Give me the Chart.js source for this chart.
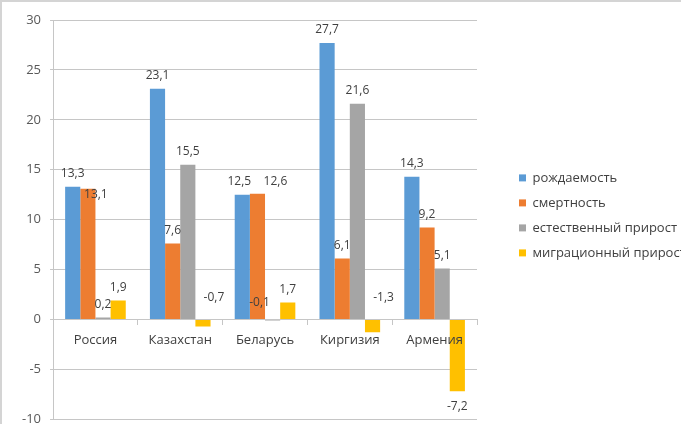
<!DOCTYPE html>
<html lang="ru">
<head>
    <meta charset="UTF-8">
    <title>Рождаемость, смертность и прирост</title>
    <script src="https://cdn.jsdelivr.net/npm/chart.js@4/dist/chart.umd.min.js"></script>
    <style>
        body {
            margin: 0;
            overflow: hidden;
            background: #ffffff;
        }

        #frame {
            position: absolute;
            left: 0;
            top: 0;
            width: 681px;
            height: 424px;
            box-sizing: border-box;
            border-top: 2px solid #d4d4d4;
            border-left: 2px solid #d4d4d4;
            pointer-events: none;
        }
    </style>
</head>
<body>
    <!-- canvas is a bit taller than the window: the lowest tick label sits right at the edge -->
    <canvas id="grafico" width="681" height="436"></canvas>
    <div id="frame"></div>

    <script>
        const categories = ['Россия', 'Казахстан', 'Беларусь', 'Киргизия', 'Армения'];
        const birthRate = [13.3, 23.1, 12.5, 27.7, 14.3];
        const deathRate = [13.1, 7.6, 12.6, 6.1, 9.2];
        const naturalGrowth = [0.2, 15.5, -0.1, 21.6, 5.1];
        const migrationGrowth = [1.9, -0.7, 1.7, -1.3, -7.2];

        const Y_MIN = -10;
        const Y_MAX = 30;
        const Y_STEP = 5;

        const FONT = '"Open Sans", "Noto Sans", sans-serif';
        const GRID = '#c6c6c6';

        // some labels were moved by hand so they don't collide: [dx, dy] per "dataset-index"
        const labelShift = {
            '0-2': [-3, 0],
            '1-0': [8, 19],
            '1-2': [18, 1],
            '2-2': [-13, -33],
            '3-1': [11, -44],
            '3-3': [11, -50]
        };

        const valueLabels = {
            id: 'valueLabels',
            afterDatasetsDraw(chart) {
                const ctx = chart.ctx;
                ctx.save();
                ctx.font = '12px ' + FONT;
                ctx.fillStyle = '#404040';
                ctx.textAlign = 'center';
                ctx.textBaseline = 'middle';
                chart.data.datasets.forEach((ds, i) => {
                    chart.getDatasetMeta(i).data.forEach((bar, j) => {
                        const v = ds.data[j];
                        const s = labelShift[i + '-' + j] || [0, 0];
                        const y = v >= 0 ? bar.y - 13 : bar.y + 15;
                        ctx.fillText(String(v).replace('.', ','), bar.x + s[0], y + s[1]);
                    });
                });
                ctx.restore();
            }
        };

        new Chart(document.getElementById('grafico'), {
            type: 'bar',
            data: {
                labels: categories,
                datasets: [
                    { label: 'рождаемость', data: birthRate, backgroundColor: '#5b9bd5' },
                    { label: 'смертность', data: deathRate, backgroundColor: '#ed7d31' },
                    { label: 'естественный прирост', data: naturalGrowth, backgroundColor: '#a5a5a5' },
                    { label: 'миграционный прирост', data: migrationGrowth, backgroundColor: '#ffc000' }
                ]
            },
            options: {
                responsive: false,
                animation: false,
                datasets: {
                    bar: { barPercentage: 1, categoryPercentage: 0.715 }
                },
                layout: {
                    padding: { left: 13, top: 20, bottom: 6, right: 0 }
                },
                plugins: {
                    tooltip: { enabled: false },
                    legend: {
                        position: 'right',
                        align: 'start',
                        maxWidth: 174,
                        // empty title only pushes the items down to the middle
                        title: {
                            display: true,
                            text: '',
                            font: { size: 12 },
                            padding: { top: 125, bottom: 0 }
                        },
                        labels: {
                            boxWidth: 7,
                            boxHeight: 7,
                            padding: 12,
                            color: '#404040',
                            font: { family: FONT, size: 13 }
                        }
                    }
                },
                scales: {
                    x: {
                        position: { y: 0 },
                        grid: {
                            drawOnChartArea: false,
                            drawTicks: true,
                            tickLength: 5,
                            color: GRID
                        },
                        border: { display: true, color: GRID },
                        ticks: {
                            z: 1, // category names stay on top of the negative bars
                            color: '#404040',
                            padding: 8,
                            font: { family: FONT, size: 13 }
                        }
                    },
                    y: {
                        min: Y_MIN,
                        max: Y_MAX,
                        ticks: {
                            stepSize: Y_STEP,
                            color: '#595959',
                            padding: 9,
                            font: { family: FONT, size: 13 }
                        },
                        grid: { color: GRID, tickLength: 3 },
                        border: { display: true, color: GRID }
                    },
                    // empty strip between the plot and the legend
                    pad: {
                        type: 'linear',
                        position: 'right',
                        grid: { display: false },
                        border: { display: false },
                        ticks: { display: false },
                        afterFit: (s) => { s.width = 30; }
                    }
                }
            },
            plugins: [valueLabels]
        });
    </script>
</body>
</html>
